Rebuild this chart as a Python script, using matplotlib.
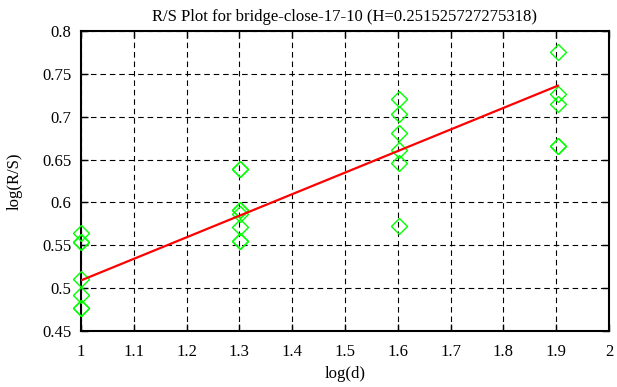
import numpy as np
import matplotlib
matplotlib.use('Agg')
import matplotlib.pyplot as plt

# log10 of block sizes 10, 20, 40, 80
log_d = [1.0] * 7 + [1.30103] * 8 + [1.60206] * 6 + [1.90309] * 5
log_rs = [0.5646, 0.5533, 0.5533, 0.5106, 0.492, 0.4764, 0.4764,
          0.6385, 0.6385, 0.591, 0.591, 0.587, 0.571, 0.555, 0.555,
          0.721, 0.7026, 0.681, 0.661, 0.646, 0.5724,
          0.7755, 0.726, 0.7146, 0.6656, 0.6656]
H = 0.251525727275318
intercept = 0.2575
fit_x = [1.0, 1.90309]

plt.rcParams['font.family'] = ['Liberation Serif', 'DejaVu Serif']

fig = plt.figure(figsize=(6.17, 3.87), dpi=100)
ax = fig.add_axes([81 / 617, 1 - 331 / 387, 528 / 617, 300 / 387])

ax.plot(log_d, log_rs, linestyle='none', marker='D', markersize=8.5,
        markerfacecolor='none', markeredgecolor='#00ff00', markeredgewidth=1.0,
        clip_on=False, zorder=3)
fit_y = [intercept + H * x for x in fit_x]
ax.plot(fit_x, fit_y, color='red', linewidth=1.6, zorder=4)

ax.set_xlim(1, 2)
ax.set_ylim(0.45, 0.8)
ax.set_xticks(np.arange(1, 2.01, 0.1))
ax.set_xticklabels(['1', '1.1', '1.2', '1.3', '1.4', '1.5', '1.6', '1.7', '1.8', '1.9', '2'])
ax.set_yticks(np.arange(0.45, 0.801, 0.05))
ax.set_yticklabels(['0.45', '0.5', '0.55', '0.6', '0.65', '0.7', '0.75', '0.8'])
ax.grid(True, color='black', linestyle=(0, (5, 3.5)), linewidth=0.8)
ax.tick_params(direction='in', length=5, width=1, top=True, right=True,
               labelsize=12, colors='black')
ax.tick_params(axis='x', pad=9)
ax.tick_params(axis='y', pad=7)
for s in ax.spines.values():
    s.set_linewidth(1.5)

ax.set_title('R/S Plot for bridge-close-17-10 (H=0.251525727275318)', fontsize=12, pad=7)
ax.set_xlabel('log(d)', fontsize=12, labelpad=5)
ax.set_ylabel('log(R/S)', fontsize=12, labelpad=14)

fig.savefig('out.png', dpi=100)
